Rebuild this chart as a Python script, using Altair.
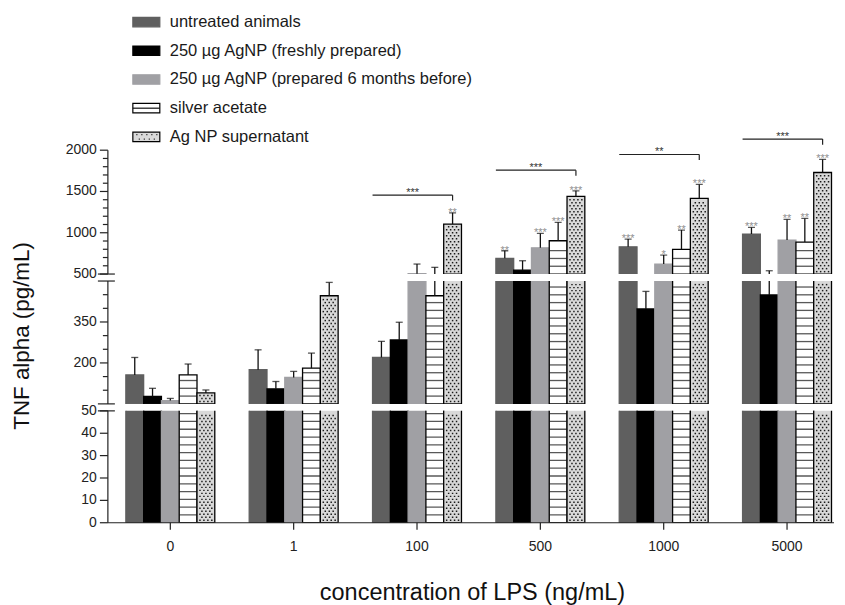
import altair as alt
import pandas as pd

FONT = "Liberation Sans"

concs = ["0", "1", "100", "500", "1000", "5000"]
series = ["untreated animals", "250 µg AgNP (freshly prepared)",
          "250 µg AgNP (prepared 6 months before)", "silver acetate", "Ag NP supernatant"]

mean_untreated = [156, 175, 220, 690, 830, 984]
mean_fresh = [77, 105, 284, 548, 398, 449]
mean_old = [62, 147, 505, 818, 621, 911]
mean_silver = [156, 181, 446, 903, 799, 887]
mean_super = [90, 446, 1105, 1440, 1416, 1730]

sem_untreated = [64, 73, 59, 92, 94, 81]
sem_fresh = [30, 27, 65, 113, 64, 91]
sem_old = [8, 22, 116, 174, 109, 251]
sem_silver = [40, 55, 135, 223, 233, 287]
sem_super = [11, 49, 137, 68, 169, 158]

stars_untreated = ["", "", "", "**", "***", "***"]
stars_fresh = ["", "", "", "", "", ""]
stars_old = ["", "", "", "***", "*", "**"]
stars_silver = ["", "", "", "***", "**", "**"]
stars_super = ["", "", "**", "***", "***", "***"]

bracket_concs = ["100", "500", "1000", "5000"]
bracket_level = [1456, 1758, 1948, 2134]
bracket_stars = ["***", "***", "**", "***"]

y_title = "TNF alpha (pg/mL)"
x_title = "concentration of LPS (ng/mL)"

fill_colors = ["#5f5f5f", "#000000", "#a0a0a4", "#ffffff", "#d9d9d9"]
stroke_colors = ["#5f5f5f", "#000000", "#a0a0a4", "#000000", "#000000"]
AX = "#222222"

means = [mean_untreated, mean_fresh, mean_old, mean_silver, mean_super]
sems = [sem_untreated, sem_fresh, sem_old, sem_silver, sem_super]
stars = [stars_untreated, stars_fresh, stars_old, stars_silver, stars_super]

rows = []
for s, m, e, st in zip(series, means, sems, stars):
    for c, mv, ev, sv in zip(concs, m, e, st):
        rows.append({"conc": c, "series": s, "value": mv, "upper": mv + ev, "star": sv})
df = pd.DataFrame(rows)

bdf = pd.DataFrame({"conc": bracket_concs, "level": bracket_level, "stars": bracket_stars})

segments = [
    dict(name="top", lo=500, hi=2000, h=124, major=[500, 1000, 1500, 2000],
         minor=[600, 700, 800, 900, 1100, 1200, 1300, 1400, 1600, 1700, 1800, 1900], breaks=[500]),
    dict(name="mid", lo=50, hi=500, h=123, major=[200, 350],
         minor=[100, 150, 250, 300, 400, 450], breaks=[50, 500]),
    dict(name="bot", lo=0, hi=50, h=112, major=[0, 10, 20, 30, 40, 50], minor=[], breaks=[50]),
]

W = 727
NSUB = 9
xscale = alt.Scale(domain=concs, paddingInner=0.279, paddingOuter=0.083, align=0.878)
XO = alt.XOffset("series:N", scale=alt.Scale(type="band", domain=series, paddingInner=0, paddingOuter=0))
XO_SUB = alt.XOffset("slot:O", scale=alt.Scale(type="band", domain=list(range(NSUB * len(series))),
                                                paddingInner=0, paddingOuter=0))
fill_enc = alt.Fill("series:N", scale=alt.Scale(domain=series, range=fill_colors), legend=None)
stroke_enc = alt.Stroke("series:N", scale=alt.Scale(domain=series, range=stroke_colors), legend=None)


def xenc(band=None):
    if band is None:
        return alt.X("conc:N", scale=xscale, axis=None)
    return alt.X("conc:N", scale=xscale, axis=None, bandPosition=band)


def stripe_df(lo, hi, h):
    step = 7.8 * (hi - lo) / h
    out = []
    for c, v in zip(concs, mean_silver):
        top = min(v, hi)
        y = lo + step
        while y < top - step * 0.35:
            out.append({"conc": c, "series": series[3], "y": y})
            y += step
    return pd.DataFrame(out, columns=["conc", "series", "y"])


DOT_SLOTS = {0: [1, 3, 5, 7], 1: [2, 4, 6]}


def dot_df(lo, hi, h):
    step = 3.0 * (hi - lo) / h
    out = []
    base_slot = NSUB * 4
    for c, v in zip(concs, mean_super):
        top = min(v, hi)
        y = lo + step * 0.8
        k = 0
        while y < top - step * 0.6:
            for sl in DOT_SLOTS[k % 2]:
                out.append({"conc": c, "slot": base_slot + sl, "y": y})
            y += step
            k += 1
    return pd.DataFrame(out, columns=["conc", "slot", "y"])


def panel(seg):
    lo, hi, h = seg["lo"], seg["hi"], seg["h"]
    ys = alt.Scale(domain=[lo, hi], nice=False, zero=False)

    def Y(f):
        return alt.Y(f, scale=ys, axis=None)

    base = alt.Chart(df)
    layers = []
    layers.append(base.transform_filter(f"datum.value > {lo}").mark_bar(clip=True, strokeWidth=1.3).encode(
        x=xenc(), xOffset=XO, y=Y("value:Q"), y2=alt.datum(lo), fill=fill_enc, stroke=stroke_enc))
    layers.append(alt.Chart(stripe_df(lo, hi, h)).mark_tick(clip=True, color="#111", thickness=1.3,
                                                            size=17.8).encode(
        x=xenc(), xOffset=XO, y=Y("y:Q")))
    layers.append(alt.Chart(dot_df(lo, hi, h)).mark_square(clip=True, size=2.2, color="#1a1a1a",
                                                           opacity=1).encode(
        x=xenc(), xOffset=XO_SUB, y=Y("y:Q")))
    layers.append(base.transform_filter(f"datum.upper > {lo} && datum.value < {hi}").mark_rule(
        clip=True, color="#111", strokeWidth=1.3).encode(
        x=xenc(), xOffset=XO, y=Y("value:Q"), y2="upper:Q"))
    layers.append(base.transform_filter(f"datum.upper > {lo} && datum.upper <= {hi}").mark_tick(
        clip=True, color="#111", thickness=1.3, size=7).encode(
        x=xenc(), xOffset=XO, y=Y("upper:Q")))

    # --- y axis drawn from scale ---
    layers.append(alt.Chart(pd.DataFrame({"a": [lo], "b": [hi]})).mark_rule(color=AX, strokeWidth=1.2).encode(
        x=alt.value(0), y=Y("a:Q"), y2="b:Q"))
    maj = pd.DataFrame({"v": seg["major"], "lab": [str(v) for v in seg["major"]]})
    layers.append(alt.Chart(maj).mark_rule(color=AX, strokeWidth=1.2).encode(
        x=alt.value(-8), x2=alt.value(0), y=Y("v:Q")))
    layers.append(alt.Chart(maj).mark_text(align="right", baseline="middle", fontSize=14, color=AX,
                                           font=FONT).encode(
        x=alt.value(-11), y=Y("v:Q"), text="lab:N"))
    if seg["minor"]:
        layers.append(alt.Chart(pd.DataFrame({"v": seg["minor"]})).mark_rule(
            color=AX, strokeWidth=1.2).encode(
            x=alt.value(-5), x2=alt.value(0), y=Y("v:Q")))
    layers.append(alt.Chart(pd.DataFrame({"v": seg["breaks"]})).mark_rule(
        color=AX, strokeWidth=1.2).encode(
        x=alt.value(-10), x2=alt.value(7), y=Y("v:Q")))

    if seg["name"] == "top":
        layers.append(base.transform_filter("datum.star != ''").mark_text(
            baseline="alphabetic", dy=3, fontSize=11, color="#909090", font=FONT).encode(
            x=xenc(), xOffset=XO, y=Y("upper:Q"), text="star:N"))
        bc = alt.Chart(bdf)
        layers.append(bc.mark_rule(color=AX, strokeWidth=1.2).encode(
            x=xenc(band=0), x2=alt.X2("conc:N", bandPosition=0.9), y=Y("level:Q")))
        layers.append(bc.transform_calculate(drop="datum.level - 67").mark_rule(
            color=AX, strokeWidth=1.2).encode(
            x=xenc(band=0.9), y=Y("level:Q"), y2="drop:Q"))
        layers.append(bc.mark_text(baseline="alphabetic", dy=1, fontSize=11, color="#333", font=FONT).encode(
            x=xenc(band=0.45), y=Y("level:Q"), text="stars:N"))
    if seg["name"] == "mid":
        layers.append(alt.Chart(pd.DataFrame({"t": [y_title]})).mark_text(
            angle=270, align="center", baseline="middle", fontSize=22.4, color="#111", font=FONT).encode(
            x=alt.value(-86), y=alt.value(55), text="t:N"))
    if seg["name"] == "bot":
        layers.append(alt.Chart(pd.DataFrame({"v": [lo]})).mark_rule(color=AX, strokeWidth=1.2).encode(
            x=alt.value(0), x2=alt.value(W), y=Y("v:Q")))
        cdf = pd.DataFrame({"conc": concs})
        layers.append(alt.Chart(cdf).mark_rule(color=AX, strokeWidth=1.2).encode(
            x=xenc(band=0.5), y=alt.value(h), y2=alt.value(h + 7)))
        layers.append(alt.Chart(cdf).mark_text(baseline="middle", fontSize=14, color=AX, font=FONT).encode(
            x=xenc(band=0.5), y=alt.value(h + 24), text="conc:N"))
        layers.append(alt.Chart(pd.DataFrame({"t": [x_title]})).mark_text(
            baseline="middle", align="center", fontSize=23.5, color="#111", font=FONT).encode(
            x=alt.value(W / 2 + 1.5), y=alt.value(h + 70), text="t:N"))
    return alt.layer(*layers).resolve_scale(xOffset="independent").properties(width=W, height=h)


top = panel(segments[0])
mid = panel(segments[1])
bot = panel(segments[2])

# legend panel
ldf = pd.DataFrame({"series": series, "idx": list(range(len(series)))})
ly_scale = alt.Scale(domain=[0, 4], range=[13.7, 128.7], nice=False, zero=False)
lbase = alt.Chart(ldf)
leg_layers = [
    lbase.transform_calculate(a="datum.idx - 0.165", b="datum.idx + 0.165").mark_rect(strokeWidth=1.2).encode(
        x=alt.value(25), x2=alt.value(52), y=alt.Y("a:Q", scale=ly_scale, axis=None), y2="b:Q",
        fill=fill_enc, stroke=stroke_enc),
    lbase.transform_filter("datum.idx == 3").mark_rule(color="#111", strokeWidth=1.2).encode(
        x=alt.value(25), x2=alt.value(52), y=alt.Y("idx:Q", scale=ly_scale, axis=None)),
]
for off, xs in [(-0.08, [29, 34, 39, 44, 49]), (0.08, [31.5, 36.5, 41.5, 46.5])]:
    for xv in xs:
        leg_layers.append(lbase.transform_filter("datum.idx == 4").transform_calculate(
            yy=f"datum.idx + ({off})").mark_square(size=1.5, color="#333", opacity=1).encode(
            x=alt.value(xv), y=alt.Y("yy:Q", scale=ly_scale, axis=None)))
leg_layers.append(lbase.mark_text(align="left", baseline="middle", fontSize=16.5, font=FONT,
                                  color="#1a1a1a").encode(
    x=alt.value(62), y=alt.Y("idx:Q", scale=ly_scale, axis=None), text="series:N"))
legend = alt.layer(*leg_layers).properties(width=W, height=135)

chart = alt.vconcat(legend, top, mid, bot, spacing=7, bounds="flush").properties(
    padding={"left": 3, "top": 0, "right": 2, "bottom": 0}
).configure_view(strokeWidth=0).configure_text(font=FONT)

chart.save("out.html", embed_options={"renderer": "svg", "actions": False})
